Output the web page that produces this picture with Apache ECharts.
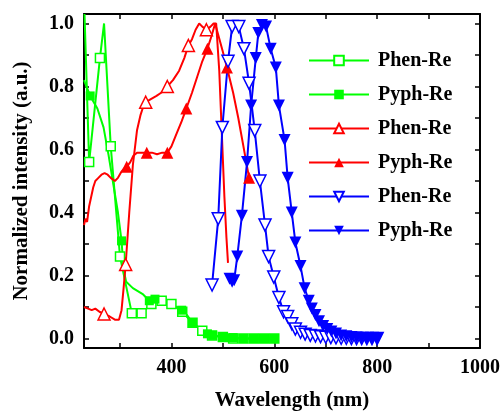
<!DOCTYPE html>
<html>
<head>
<meta charset="utf-8">
<script src="https://cdn.jsdelivr.net/npm/echarts@6/dist/echarts.min.js"></script>
<style>
  html, body { margin: 0; padding: 0; background: #fff; }
  #chart-container { width: 503px; height: 416px; }
</style>
</head>
<body>
<div id="chart-container"></div>
<script>
var dom = document.getElementById("chart-container");
var myChart = echarts.init(dom, null, { renderer: "canvas" });

// axis ticks / labels
var xTicks = [300, 400, 500, 600, 700, 800, 900, 1000];
var xLabels = [400, 600, 800, 1000];
var yTicks = [0, 0.1, 0.2, 0.3, 0.4, 0.5, 0.6, 0.7, 0.8, 0.9, 1.0];
var yLabels = [0, 0.2, 0.4, 0.6, 0.8, 1.0];

// absorption (green)
var phenAbs = [[231, 1.03], [240, 0.56], [261, 0.89], [269, 1.0], [282, 0.61], [300, 0.26], [323, 0.08], [342, 0.08], [361, 0.11], [381, 0.12], [400, 0.11], [421, 0.085], [441, 0.05], [460, 0.025], [479, 0.01], [500, 0.005], [520, 0], [540, 0], [560, 0], [580, 0], [600, 0]];
var phenAbsMarks = [240, 261, 282, 300, 323, 342, 361, 381, 400, 421, 441, 460, 479, 500, 520, 540, 560, 580, 600];
var pyphAbs = [[230, 0.82], [242, 0.77], [256, 0.73], [268, 0.67], [278, 0.58], [288, 0.48], [296, 0.4], [303, 0.31], [307, 0.22], [312, 0.18], [325, 0.16], [345, 0.14], [357, 0.12], [368, 0.125], [380, 0.12], [400, 0.11], [420, 0.09], [430, 0.075], [441, 0.05], [455, 0.03], [470, 0.015], [480, 0.01], [500, 0.005], [520, 0.003], [540, 0], [560, 0], [580, 0], [600, 0]];
var pyphAbsMarks = [242, 303, 357, 368, 420, 441, 470, 480, 500, 520, 540, 560, 580, 600];

// excitation (red)
var phenExc = [[230, 0.10], [238, 0.095], [245, 0.09], [252, 0.095], [260, 0.085], [269, 0.078], [280, 0.07], [290, 0.06], [298, 0.06], [303, 0.09], [307, 0.16], [311, 0.235], [318, 0.4], [325, 0.55], [333, 0.66], [340, 0.71], [344, 0.73], [350, 0.75], [360, 0.76], [371, 0.77], [380, 0.78], [392, 0.80], [403, 0.82], [415, 0.85], [425, 0.89], [433, 0.93], [440, 0.95], [447, 0.98], [454, 1.0], [460, 0.99], [468, 0.98], [476, 0.99], [482, 1.0], [487, 1.0], [493, 0.85], [498, 0.65], [503, 0.45], [507, 0.32], [510, 0.24]];
var phenExcMarks = [269, 311, 350, 392, 433, 468];
var pyphExc = [[230, 0.36], [233, 0.38], [236, 0.37], [240, 0.42], [244, 0.45], [248, 0.48], [252, 0.50], [258, 0.51], [264, 0.52], [270, 0.525], [276, 0.52], [282, 0.51], [290, 0.50], [296, 0.51], [303, 0.53], [308, 0.54], [313, 0.545], [320, 0.56], [326, 0.58], [333, 0.59], [340, 0.59], [352, 0.59], [362, 0.59], [372, 0.585], [382, 0.59], [392, 0.59], [400, 0.61], [410, 0.65], [420, 0.69], [429, 0.73], [440, 0.78], [450, 0.83], [460, 0.88], [470, 0.92], [478, 0.96], [485, 1.0], [490, 0.97], [500, 0.91], [508, 0.86], [520, 0.78], [530, 0.70], [540, 0.61], [551, 0.51]];
var pyphExcMarks = [313, 352, 392, 429, 470, 508, 551];

// emission (blue)
var phenEm = [[479, 0.17], [491, 0.38], [499, 0.67], [510, 0.88], [518, 0.99], [531, 0.99], [541, 0.92], [551, 0.81], [562, 0.66], [572, 0.5], [582, 0.36], [589, 0.26], [599, 0.195], [609, 0.13], [618, 0.085], [626, 0.07], [634, 0.047], [641, 0.03], [651, 0.02], [660, 0.014], [670, 0.01], [680, 0.008], [690, 0.006], [700, 0.004], [710, 0.003], [720, 0.002], [730, 0.001], [740, 0.001], [750, 0], [760, 0], [770, 0], [780, 0], [790, 0], [800, 0]];
var pyphEm = [[513, 0.19], [518, 0.18], [522, 0.185], [528, 0.26], [537, 0.39], [547, 0.56], [555, 0.74], [564, 0.89], [569, 0.97], [576, 0.995], [584, 0.99], [593, 0.92], [603, 0.86], [609, 0.74], [620, 0.63], [626, 0.51], [634, 0.40], [641, 0.305], [651, 0.23], [659, 0.16], [667, 0.12], [673, 0.095], [680, 0.075], [687, 0.055], [695, 0.04], [703, 0.03], [711, 0.022], [720, 0.016], [730, 0.01], [740, 0.007], [750, 0.005], [760, 0.003], [770, 0.002], [780, 0.001], [790, 0], [800, 0]];

var font = "'Liberation Serif', 'Times New Roman', serif";

function makeSeries(name, pts, marks, color, symbol, size, rotate, hollow) {
  var data = pts.map(function (p) {
    if (marks && marks.indexOf(p[0]) < 0) return { value: p, symbol: "none" };
    return { value: p };
  });
  return {
    name: name,
    type: "line",
    data: data,
    symbol: symbol,
    symbolSize: size,
    symbolRotate: rotate,
    showAllSymbol: true,
    lineStyle: { color: color, width: 2 },
    itemStyle: hollow
      ? { color: "#fff", borderColor: color, borderWidth: 1.5 }
      : { color: color, borderColor: color, borderWidth: 0 },
    emphasis: { disabled: true },
    animation: false,
  };
}

var option = {
  animation: false,
  grid: { left: 84, right: 20, top: 14, bottom: 64 },
  legend: {
    orient: "vertical",
    left: 303,
    top: 45,
    itemWidth: 60,
    itemHeight: 12,
    itemGap: 13,
    formatter: function (n) { return n.split("|")[0]; },
    textStyle: { fontFamily: font, fontWeight: "bold", fontSize: 20, color: "#000", lineHeight: 21, padding: [0, 0, 0, 4] },
  },
  xAxis: [
    {
      type: "value",
      min: 230,
      max: 1000,
      name: "Wavelength (nm)",
      nameLocation: "middle",
      nameGap: 42,
      nameTextStyle: { fontFamily: font, fontWeight: "bold", fontSize: 21, color: "#000", padding: [0, 0, 0, 20] },
      axisLine: { onZero: false, lineStyle: { color: "#000", width: 2 } },
      axisTick: { inside: true, length: 5, customValues: xTicks, lineStyle: { color: "#000", width: 1.5 } },
      axisLabel: {
        customValues: xLabels,
        margin: 10,
        fontFamily: font,
        fontWeight: "bold",
        fontSize: 20,
        color: "#000",
        formatter: function (v) { return String(v); },
      },
      splitLine: { show: false },
    },
    {
      type: "value",
      position: "top",
      min: 230,
      max: 1000,
      axisLine: { onZero: false, lineStyle: { color: "#000", width: 2 } },
      axisTick: { inside: true, length: 5, customValues: xTicks, lineStyle: { color: "#000", width: 1.5 } },
      axisLabel: { show: false },
      splitLine: { show: false },
    },
  ],
  yAxis: [
    {
      type: "value",
      min: -0.03,
      max: 1.03,
      name: "Normalized intensity (a.u.)",
      nameLocation: "middle",
      nameGap: 52,
      nameTextStyle: { fontFamily: font, fontWeight: "bold", fontSize: 21, color: "#000" },
      axisLine: { onZero: false, lineStyle: { color: "#000", width: 2 } },
      axisTick: { inside: true, length: 5, customValues: yTicks, lineStyle: { color: "#000", width: 1.5 } },
      axisLabel: {
        customValues: yLabels,
        margin: 10,
        fontFamily: font,
        fontWeight: "bold",
        fontSize: 20,
        color: "#000",
        formatter: function (v) { return v.toFixed(1); },
      },
      splitLine: { show: false },
    },
    {
      type: "value",
      position: "right",
      min: -0.03,
      max: 1.03,
      axisLine: { onZero: false, lineStyle: { color: "#000", width: 2 } },
      axisTick: { inside: true, length: 5, customValues: yTicks, lineStyle: { color: "#000", width: 1.5 } },
      axisLabel: { show: false },
      splitLine: { show: false },
    },
  ],
  series: [
    makeSeries("Phen-Re|abs", phenAbs, phenAbsMarks, "#00ff00", "rect", 9, 0, true),
    makeSeries("Pyph-Re|abs", pyphAbs, pyphAbsMarks, "#00ff00", "rect", 9, 0, false),
    makeSeries("Phen-Re|exc", phenExc, phenExcMarks, "#ff0000", "triangle", 12, 0, true),
    makeSeries("Pyph-Re|exc", pyphExc, pyphExcMarks, "#ff0000", "triangle", 12, 0, false),
    makeSeries("Phen-Re|em", phenEm, null, "#0000ff", "triangle", 12, 180, true),
    makeSeries("Pyph-Re|em", pyphEm, null, "#0000ff", "triangle", 12, 180, false),
  ],
};

myChart.setOption(option);
window.addEventListener("resize", myChart.resize);
</script>
</body>
</html>
